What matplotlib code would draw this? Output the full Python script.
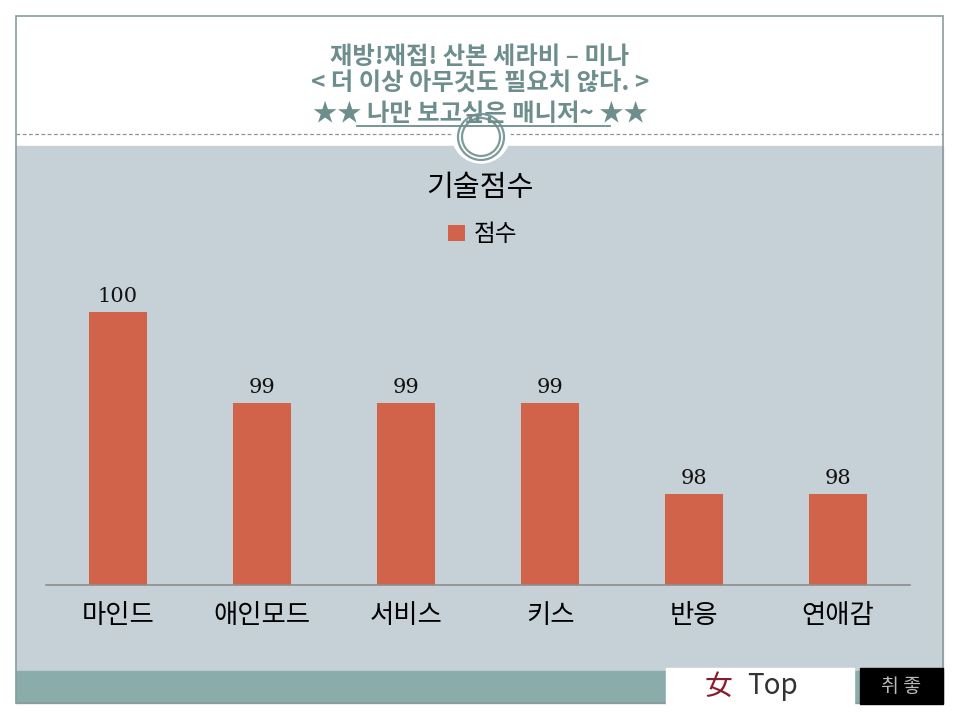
import numpy as np
import matplotlib.pyplot as plt
from matplotlib.patches import Rectangle, Circle

plt.rcParams['font.family'] = ['Noto Sans CJK KR', 'DejaVu Sans']

# data
categories = ['마인드', '애인모드', '서비스', '키스', '반응', '연애감']
scores = [100, 99, 99, 99, 98, 98]
series_name = '점수'
chart_title = '기술점수'
header = ['재방!재접! 산본 세라비 – 미나',
          '< 더 이상 아무것도 필요치 않다. >',
          '★★ 나만 보고싶은 매니저~ ★★']

W, H = 960, 720
fig = plt.figure(figsize=(9.6, 7.2), dpi=100)

# slide background drawn in pixel coords
bg = fig.add_axes([0, 0, 1, 1])
bg.set_xlim(0, W)
bg.set_ylim(H, 0)
bg.axis('off')
bg.add_patch(Rectangle((16, 146), 927, 525, color='#c6d1d7', zorder=1))
bg.add_patch(Rectangle((16, 671), 927, 32, color='#8aadab', zorder=1))
bg.add_patch(Rectangle((16, 16), 927, 687, fill=False, ec='#8a9c9c', lw=1.2, zorder=3))
bg.plot([16, 943], [134, 134], ls=(0, (3, 2)), color='#8a9696', lw=0.9, zorder=2)
bg.add_patch(Circle((481, 134), 29, color='white', zorder=4))
bg.add_patch(Circle((481, 137), 23, fill=False, ec='#7e9a9a', lw=1.6, zorder=5))
bg.add_patch(Circle((481, 137), 19, fill=False, ec='#7e9a9a', lw=1.6, zorder=5))

hc = '#6d8e8d'
bg.text(480, 57, header[0], ha='center', va='center', fontsize=17.5, color=hc, fontweight='bold', zorder=6)
bg.text(480, 84, header[1], ha='center', va='center', fontsize=17.5, color=hc, fontweight='bold', zorder=6)
bg.text(480, 114, header[2], ha='center', va='center', fontsize=17.5, color=hc, fontweight='bold', zorder=6)
bg.plot([357, 610], [126, 126], color=hc, lw=1.3, zorder=6)

# logos at the bottom
bg.add_patch(Rectangle((666, 668), 188, 36, color='white', zorder=6))
bg.add_patch(Rectangle((860, 668), 83, 36, color='black', zorder=6))
bg.text(718, 687, '女', ha='center', va='center', fontsize=20, color='#8b1a2a', zorder=7)
bg.text(772, 686, 'Top', ha='center', va='center', fontsize=20, color='#333333', zorder=7)
bg.text(901, 686, '취 좋', ha='center', va='center', fontsize=14, color='#bbbbbb', zorder=7)

# chart
ax = fig.add_axes([46 / W, (H - 585) / H, 864 / W, 318 / H])
ax.patch.set_alpha(0)
x = np.arange(len(categories))
bars = ax.bar(x, scores, width=0.4, color='#d0634a', label=series_name, zorder=2)
ax.set_xlim(-0.5, len(categories) - 0.5)
ax.set_ylim(97, 97 + 318 / 91)
for b, v in zip(bars, scores):
    ax.annotate(str(v), (b.get_x() + b.get_width() / 2, v), xytext=(0, 4),
                textcoords='offset points', ha='center', va='bottom',
                fontsize=15, family='DejaVu Serif', color='#111111')
ax.set_xticks(x)
ax.set_xticklabels(categories, fontsize=19)
ax.tick_params(axis='x', length=0, pad=12)
ax.set_yticks([])
for s in ['top', 'right', 'left']:
    ax.spines[s].set_visible(False)
ax.spines['bottom'].set_color('#8c8c8c')
ax.spines['bottom'].set_linewidth(1.2)

fig.text(480 / W, 1 - 188 / H, chart_title, ha='center', va='center', fontsize=21)
fig.legend(handles=[bars], labels=[series_name], loc='center', bbox_to_anchor=(483 / W, 1 - 235 / H),
           frameon=False, fontsize=17, handlelength=0.7, handleheight=0.7, handletextpad=0.4)

fig.savefig('out.png', dpi=100)
